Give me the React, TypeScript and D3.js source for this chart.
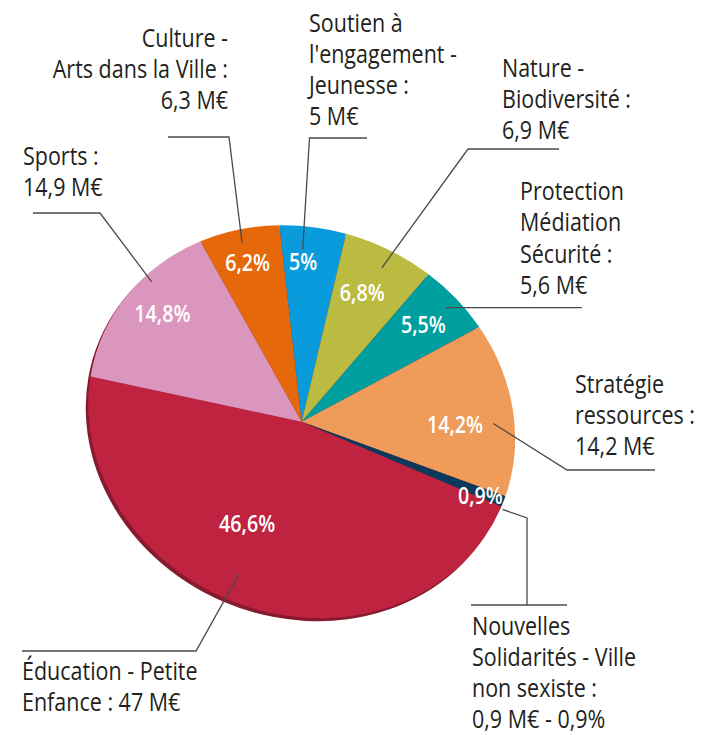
import React, { useEffect, useRef } from 'react';
import * as d3 from 'd3';

// Budget split, in order clockwise from 3 o'clock
const categories = [
  'Éducation - Petite Enfance',
  'Sports',
  'Culture - Arts dans la Ville',
  "Soutien à l'engagement - Jeunesse",
  'Nature - Biodiversité',
  'Protection Médiation Sécurité',
  'Stratégie ressources',
  'Nouvelles Solidarités - Ville non sexiste',
];
const shares = [46.6, 14.8, 6.2, 5, 6.8, 5.5, 14.2, 0.9];
const amounts = [47, 14.9, 6.3, 5, 6.9, 5.6, 14.2, 0.9];
const colors = ['#c0233f', '#db96be', '#e5690a', '#0a9bdc', '#bbbb42', '#009f9f', '#ef9b5a', '#0b3a5c'];

const frNum = (v: number) => String(v).replace('.', ',');
const pct = (v: number) => `${frNum(v)}%`;
const meur = (v: number) => `${frNum(v)} M€`;

const calloutText = [
  ['Éducation - Petite', `Enfance : ${meur(amounts[0])}`],
  ['Sports :', meur(amounts[1])],
  ['Culture -', 'Arts dans la Ville :', meur(amounts[2])],
  ['Soutien à', "l'engagement -", 'Jeunesse :', meur(amounts[3])],
  ['Nature -', 'Biodiversité :', meur(amounts[4])],
  ['Protection', 'Médiation', 'Sécurité :', meur(amounts[5])],
  ['Stratégie', 'ressources :', meur(amounts[6])],
  ['Nouvelles', 'Solidarités - Ville', 'non sexiste :', `${meur(amounts[7])} - ${pct(shares[7])}`],
];

// Annotation layout (per slice)
const pctRadius = [0.6, 0.82, 0.83, 0.82, 0.74, 0.79, 0.72, 0.89];
const pctNudge = [10.7, 2.2, -0.6, -2.5, -1.7, -0.2, 4.2, 0.9];
const leaderRadius = [0.86, 0.96, 0.93, 0.88, 0.9, 0.93, 0.9, 1.01];
const leaderNudge = [5.6, 7.9, -0.3, -2.7, 0.4, 0.1, 3.8, 2.3];
const leaderPath: [number, number][][] = [
  [[196, 651], [22, 651]],
  [[100, 213], [33, 213]],
  [[229, 137], [168, 137]],
  [[309.5, 138], [367, 138]],
  [[468, 149], [559, 149]],
  [[582, 307]],
  [[567, 470], [655, 470]],
  [[527, 518], [527, 605]],
];
const extraBars: [number, number, number, number][] = [[471, 605, 567, 605]];
const textX = [22, 23, 228, 309, 502, 520, 575, 472];
const textY = [680, 165, 47, 32, 77, 200, 393, 635];
const lineGap = [31, 31, 31, 31, 31, 31.5, 31, 31];
const textAnchor = ['start', 'start', 'end', 'start', 'start', 'start', 'start', 'start'];

const W = 701;
const H = 735;
const CX = 301.7;
const CY = 421.7;
const R = 217;
const K = 0.8875;
const TILT = 23;

// no condensed face available, so squeeze a humanist sans horizontally
const FONT = "'Open Sans', 'Noto Sans', sans-serif";
const LABEL_SX = 0.86;
const PCT_SX = 0.82;

function App() {
  const ref = useRef<SVGSVGElement>(null);

  useEffect(() => {
    const svg = d3.select(ref.current);
    svg.selectAll('*').remove();

    const rad = (deg: number) => (deg * Math.PI) / 180;
    const cosT = Math.cos(rad(TILT));
    const sinT = Math.sin(rad(TILT));
    const project = (a: number, r: number): [number, number] => {
      const x0 = r * Math.sin(a);
      const y0 = -r * Math.cos(a) * K;
      return [CX + x0 * cosT - y0 * sinT, CY + x0 * sinT + y0 * cosT];
    };

    const pie = d3.pie<number>().sort(null).value(d => d)
      .startAngle(Math.PI / 2).endAngle(Math.PI / 2 + 2 * Math.PI);
    const arcs = pie(shares);
    const arc = d3.arc<d3.PieArcDatum<number>>().innerRadius(0).outerRadius(R);

    // shadow rim
    svg.append('ellipse')
      .attr('rx', R).attr('ry', R * K)
      .attr('transform', `translate(${CX - 2.5},${CY + 3}) rotate(${TILT})`)
      .attr('fill', '#861a2e');

    const g = svg.append('g')
      .attr('transform', `translate(${CX},${CY}) rotate(${TILT}) scale(1,${K})`);
    g.selectAll('path')
      .data(arcs)
      .enter()
      .append('path')
      .attr('d', arc)
      .attr('fill', (d, i) => colors[i]);

    // leader lines
    const line = d3.line();
    arcs.forEach((d, i) => {
      const mid = (d.startAngle + d.endAngle) / 2 + rad(leaderNudge[i]);
      const start = project(mid, R * leaderRadius[i]);
      const pts: [number, number][] = [start, ...leaderPath[i]];
      if (i === 5) pts[1] = [leaderPath[i][0][0], start[1]];
      svg.append('path')
        .attr('d', line(pts))
        .attr('fill', 'none')
        .attr('stroke', '#4a4a4a')
        .attr('stroke-width', 1.3);
    });
    extraBars.forEach(b => {
      svg.append('line')
        .attr('x1', b[0]).attr('y1', b[1]).attr('x2', b[2]).attr('y2', b[3])
        .attr('stroke', '#4a4a4a').attr('stroke-width', 1.3);
    });

    // percentages in slices
    arcs.forEach((d, i) => {
      const mid = (d.startAngle + d.endAngle) / 2 + rad(pctNudge[i]);
      const [x, y] = project(mid, R * pctRadius[i]);
      svg.append('text')
        .attr('transform', `translate(${x},${y}) scale(${PCT_SX},1)`)
        .attr('dy', '0.36em')
        .attr('text-anchor', 'middle')
        .attr('font-family', FONT)
        .attr('font-weight', 600)
        .attr('font-size', 24)
        .attr('fill', '#ffffff')
        .text(pct(shares[i]));
    });

    // callout labels
    calloutText.forEach((lines, i) => {
      const t = svg.append('text')
        .attr('transform', `translate(${textX[i]},${textY[i]}) scale(${LABEL_SX},1)`)
        .attr('font-family', FONT)
        .attr('font-size', 25)
        .attr('fill', '#231f20')
        .attr('text-anchor', textAnchor[i]);
      lines.forEach((s, j) => {
        t.append('tspan')
          .attr('x', 0)
          .attr('y', j * lineGap[i])
          .text(s);
      });
      t.append('title').text(categories[i]);
    });
  }, []);

  return (
    <svg
      ref={ref}
      width={W}
      height={H}
      style={{ position: 'absolute', left: 0, top: 0, background: '#fff' }}
    />
  );
}

export default App;
